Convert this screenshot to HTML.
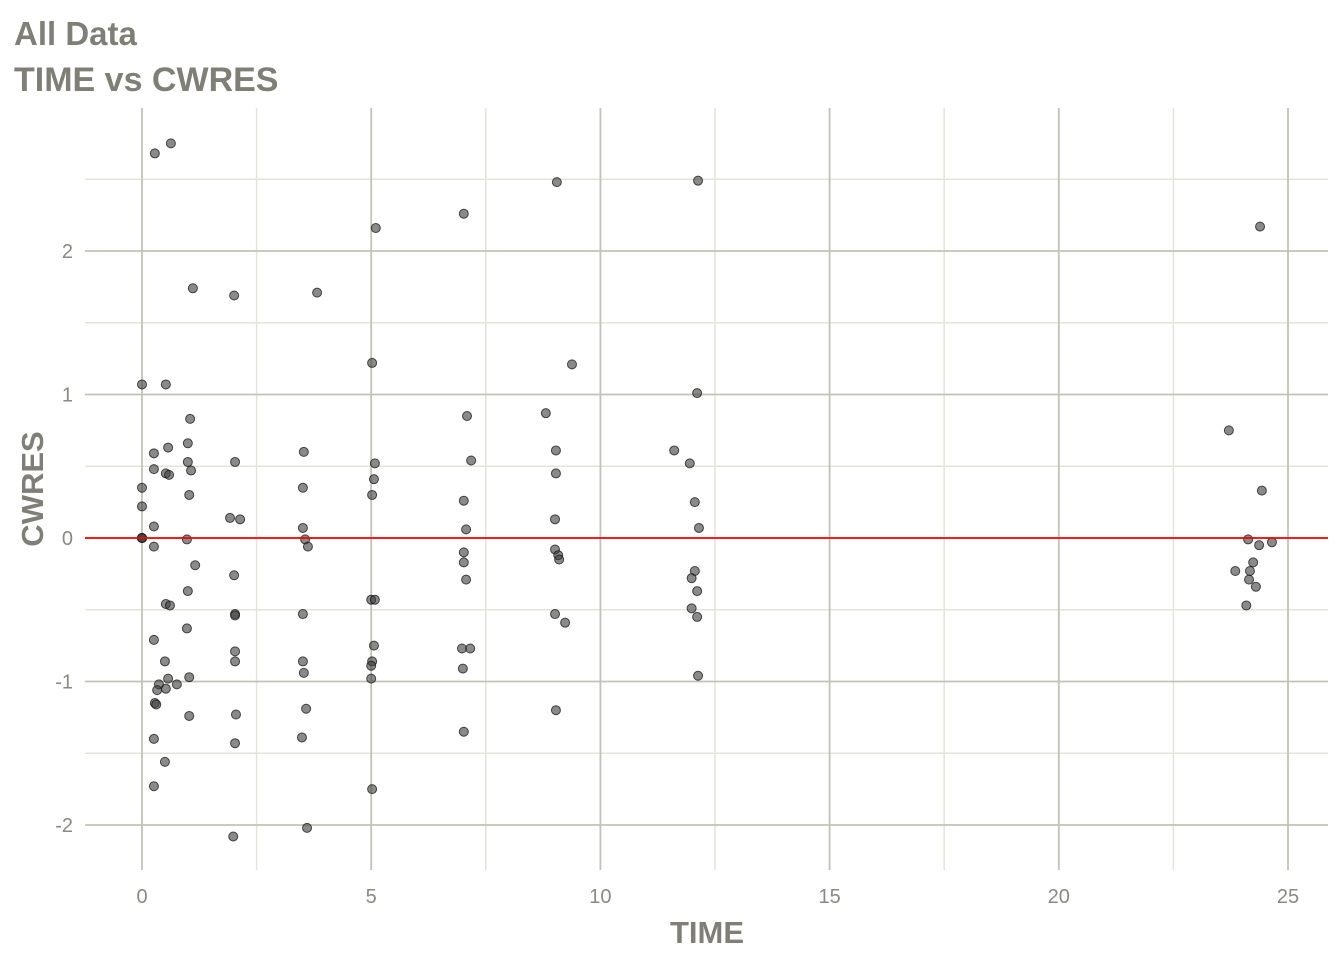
<!DOCTYPE html>
<html><head><meta charset="utf-8">
<style>
html,body{margin:0;padding:0;background:#fff;}
svg{display:block;font-family:"Liberation Sans",sans-serif;}
</style></head>
<body>
<svg id="chart" width="1344" height="960" xmlns="http://www.w3.org/2000/svg">
<text x="14" y="45" font-size="33" font-weight="bold" fill="#7f7f78">All Data</text>
<text x="14" y="91" font-size="34" font-weight="bold" fill="#7f7f78">TIME vs CWRES</text>
<g id="grid"></g>
<g id="points"></g>
<text x="707" y="943" font-size="31" font-weight="bold" fill="#7f7f78" text-anchor="middle">TIME</text>
<text transform="translate(43,489) rotate(-90)" font-size="31" font-weight="bold" fill="#7f7f78" text-anchor="middle">CWRES</text>
</svg>
<script>
const xTicks = [0, 5, 10, 15, 20, 25];
const yTicks = [-2, -1, 0, 1, 2];
const xMinor = [2.5, 7.5, 12.5, 17.5, 22.5];
const yMinor = [-1.5, -0.5, 0.5, 1.5, 2.5];
const timeVals = [0,0,0,0,0,0,0.28,0.63,0.26,0.26,0.26,0.26,0.26,0.28,0.26,0.26,0.52,0.57,0.52,0.59,0.52,0.61,0.50,0.57,0.37,0.33,0.52,0.76,0.31,0.50,
1.11,1.05,1.00,1.00,1.07,1.03,0.98,1.16,1.00,0.98,1.03,1.03,
2.01,2.03,1.92,2.14,2.01,2.03,2.03,2.03,2.03,2.05,2.03,1.99,
3.82,3.53,3.51,3.51,3.56,3.62,3.51,3.51,3.53,3.58,3.49,3.60,
5.10,5.02,5.08,5.06,5.02,5.00,5.08,5.06,5.02,5.00,5.00,5.02,
7.02,7.09,7.18,7.02,7.07,7.02,7.02,7.07,6.98,7.16,7.00,7.02,
9.05,9.38,8.81,9.03,9.03,9.01,9.01,9.08,9.10,9.01,9.23,9.03,
12.13,12.11,11.61,11.95,12.06,12.15,12.06,11.99,12.11,11.99,12.11,12.13,
24.39,23.71,24.43,24.13,24.65,24.37,24.24,23.85,24.17,24.15,24.30,24.09];
const cwresVals = [0,0,0,1.07,0.35,0.22,2.68,2.75,0.59,0.48,0.08,-0.06,-0.71,-1.15,-1.40,-1.73,1.07,0.63,0.45,0.44,-0.46,-0.47,-0.86,-0.98,-1.02,-1.06,-1.05,-1.02,-1.16,-1.56,
1.74,0.83,0.66,0.53,0.47,0.30,-0.01,-0.19,-0.37,-0.63,-0.97,-1.24,
1.69,0.53,0.14,0.13,-0.26,-0.53,-0.54,-0.79,-0.86,-1.23,-1.43,-2.08,
1.71,0.60,0.35,0.07,-0.01,-0.06,-0.53,-0.86,-0.94,-1.19,-1.39,-2.02,
2.16,1.22,0.52,0.41,0.30,-0.43,-0.43,-0.75,-0.86,-0.89,-0.98,-1.75,
2.26,0.85,0.54,0.26,0.06,-0.10,-0.17,-0.29,-0.77,-0.77,-0.91,-1.35,
2.48,1.21,0.87,0.61,0.45,0.13,-0.08,-0.12,-0.15,-0.53,-0.59,-1.20,
2.49,1.01,0.61,0.52,0.25,0.07,-0.23,-0.28,-0.37,-0.49,-0.55,-0.96,
2.17,0.75,0.33,-0.01,-0.03,-0.05,-0.17,-0.23,-0.23,-0.29,-0.34,-0.47];

const NS = "http://www.w3.org/2000/svg";
const P = {l:85, r:1328, t:108, b:870};
function sx(v){ return 142 + v * 45.84; }
function sy(v){ return 538 - v * 143.5; }
function mk(tag, attrs, parent){ const e=document.createElementNS(NS,tag); for(const k in attrs) e.setAttribute(k,attrs[k]); parent.appendChild(e); return e; }
const grid = document.getElementById('grid');
const pts = document.getElementById('points');
const svg = document.getElementById('chart');

xMinor.forEach(v=>{
  const l = mk('line',{x1:sx(v),x2:sx(v),y1:P.t,y2:P.b,stroke:'#e4e4da','stroke-width':1.5},grid);
  
  
});
yMinor.forEach(v=>{
  const l = mk('line',{x1:P.l,x2:P.r,y1:sy(v),y2:sy(v),stroke:'#e4e4da','stroke-width':1.5},grid);
  
  
});
xTicks.forEach(v=>{
  const l = mk('line',{x1:sx(v),x2:sx(v),y1:P.t,y2:P.b,stroke:'#c2c2b8','stroke-width':1.8},grid);
  
  
  const t = mk('text',{x:sx(v),y:903,'font-size':20,fill:'#8a8a82','text-anchor':'middle'},svg);
  t.textContent = v;
  
  
});
yTicks.forEach(v=>{
  const l = mk('line',{x1:P.l,x2:P.r,y1:sy(v),y2:sy(v),stroke:'#c2c2b8','stroke-width':1.8},grid);
  
  
  const t = mk('text',{x:73,y:sy(v)+7,'font-size':20,fill:'#8a8a82','text-anchor':'end'},svg);
  t.textContent = v;
  
  
});
timeVals.forEach((x,i)=>{
  const c = mk('circle',{cx:sx(x),cy:sy(cwresVals[i]),r:4.5,fill:'rgba(60,60,60,0.6)',stroke:'rgba(20,20,20,0.75)','stroke-width':1},pts);
  
  
});
const ref = mk('line',{x1:P.l,x2:P.r,y1:sy(0),y2:sy(0),stroke:'#ff0000','stroke-width':1.8},svg);


</script>
</body></html>
